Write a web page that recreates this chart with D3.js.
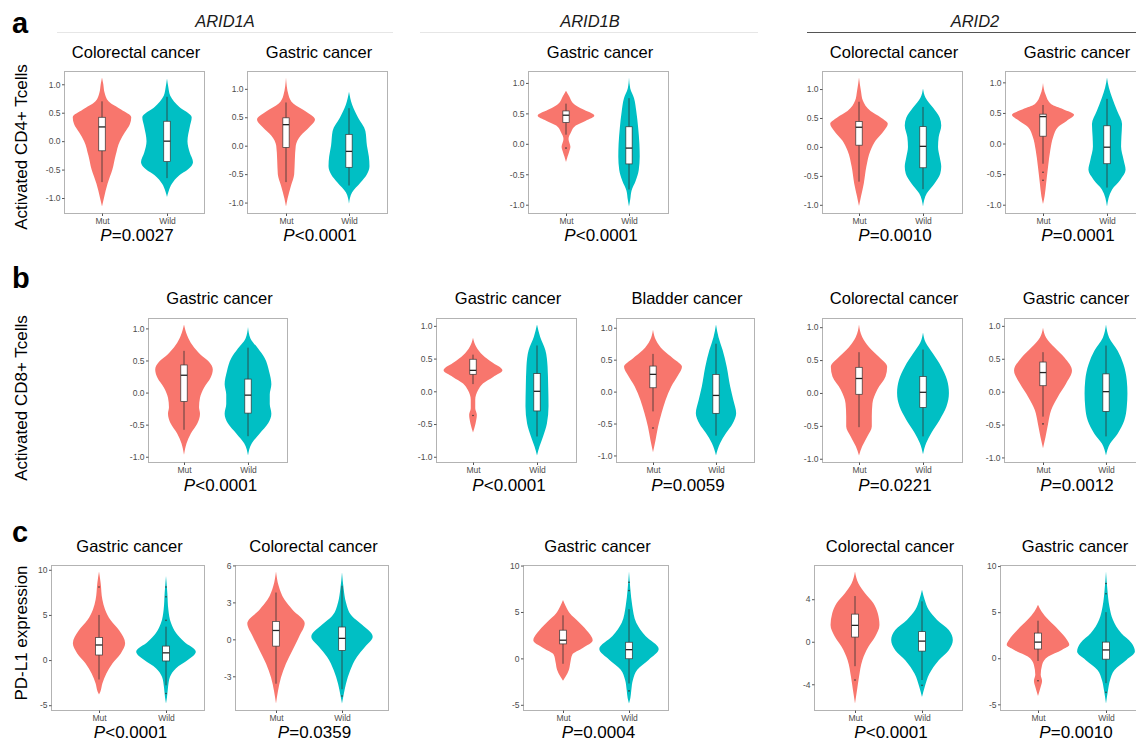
<!DOCTYPE html>
<html><head><meta charset="utf-8">
<script src="https://cdn.jsdelivr.net/npm/d3@7"></script>
<style>body{margin:0;background:#fff;} svg{display:block;font-family:"Liberation Sans",Arial,sans-serif;}</style>
</head><body><svg id="c" width="1136" height="742"></svg>
<script>
// ---------------- DATA ----------------
const groups = ["Mut", "Wild"];
const geneHeaders = ["ARID1A", "ARID1B", "ARID2"];
const rowLetters = ["a", "b", "c"];
const rowTitles = ["Activated CD4+ Tcells", "Activated CD8+ Tcells", "PD-L1 expression"];
const panelTitles = [
  "Colorectal cancer", "Gastric cancer", "Gastric cancer", "Colorectal cancer", "Gastric cancer",
  "Gastric cancer", "Gastric cancer", "Bladder cancer", "Colorectal cancer", "Gastric cancer",
  "Gastric cancer", "Colorectal cancer", "Gastric cancer", "Colorectal cancer", "Gastric cancer"];
const pLabels = [
  "=0.0027", "<0.0001", "<0.0001", "=0.0010", "=0.0001",
  "<0.0001", "<0.0001", "=0.0059", "=0.0221", "=0.0012",
  "<0.0001", "=0.0359", "=0.0004", "<0.0001", "=0.0010"];
const ticksTcell = [-1, -0.5, 0, 0.5, 1];
const ticksPD10 = [-5, 0, 5, 10];
const ticksPD6 = [-3, 0, 3, 6];
const ticksPD4 = [-4, 0, 4];

// violin profiles: [value, relative half-width]
const mutViolins = [
  [[1.12,0],[1.0,0.04],[0.85,0.08],[0.7,0.2],[0.55,0.6],[0.42,0.9],[0.3,0.86],[0.15,0.7],[0,0.55],[-0.25,0.42],[-0.5,0.32],[-0.75,0.17],[-1.0,0.06],[-1.15,0]],
  [[1.2,0],[0.89,0.08],[0.74,0.23],[0.6,0.63],[0.46,0.92],[0.32,0.73],[0.18,0.47],[0,0.31],[-0.25,0.28],[-0.5,0.26],[-0.7,0.16],[-0.93,0.05],[-1.07,0]],
  [[0.87,0],[0.78,0.1],[0.65,0.26],[0.57,0.52],[0.46,0.9],[0.38,0.63],[0.3,0.31],[0.19,0.16],[0.08,0.08],[-0.05,0.14],[-0.13,0.1],[-0.21,0.05],[-0.3,0]],
  [[1.2,0],[0.97,0.06],[0.8,0.12],[0.62,0.36],[0.51,0.68],[0.4,0.9],[0.28,0.78],[0.11,0.52],[-0.06,0.36],[-0.34,0.23],[-0.63,0.15],[-0.86,0.06],[-1.02,0]],
  [[0.99,0],[0.8,0.08],[0.64,0.26],[0.56,0.63],[0.47,0.97],[0.37,0.74],[0.27,0.47],[0.11,0.32],[-0.1,0.23],[-0.37,0.16],[-0.64,0.1],[-0.86,0.05],[-0.99,0]],
  [[1.06,0],[0.89,0.1],[0.74,0.26],[0.59,0.52],[0.48,0.78],[0.36,0.9],[0.23,0.83],[0.08,0.63],[-0.08,0.5],[-0.23,0.47],[-0.33,0.5],[-0.48,0.42],[-0.64,0.21],[-0.79,0.08],[-0.97,0]],
  [[0.82,0],[0.68,0.1],[0.55,0.31],[0.45,0.57],[0.32,0.92],[0.22,0.63],[0.12,0.31],[0.02,0.16],[-0.13,0.07],[-0.26,0.07],[-0.36,0.12],[-0.49,0.08],[-0.63,0]],
  [[0.97,0],[0.8,0.1],[0.65,0.32],[0.52,0.64],[0.39,0.92],[0.26,0.8],[0.08,0.58],[-0.13,0.4],[-0.34,0.27],[-0.55,0.16],[-0.76,0.08],[-0.95,0]],
  [[1.04,0],[0.85,0.1],[0.7,0.31],[0.55,0.62],[0.4,0.88],[0.25,0.83],[0.05,0.57],[-0.16,0.42],[-0.36,0.4],[-0.51,0.4],[-0.66,0.26],[-0.81,0.1],[-0.95,0]],
  [[0.97,0],[0.82,0.1],[0.67,0.37],[0.52,0.68],[0.32,0.92],[0.12,0.73],[-0.08,0.47],[-0.28,0.26],[-0.49,0.16],[-0.69,0.08],[-0.86,0]],
  [[9.8,0],[8.5,0.05],[6.7,0.1],[5.6,0.18],[4.4,0.35],[3.3,0.6],[1.85,0.78],[0.74,0.65],[-0.37,0.4],[-1.5,0.22],[-2.6,0.1],[-3.5,0.04],[-3.8,0]],
  [[5.5,0],[4.35,0.08],[3.25,0.25],[2.4,0.5],[1.3,0.87],[0.22,0.7],[-0.88,0.5],[-1.98,0.3],[-3.1,0.15],[-4.2,0.06],[-5.2,0]],
  [[6.3,0],[5.65,0.08],[4.9,0.2],[3.85,0.5],[2.75,0.78],[1.96,0.9],[1.12,0.6],[0.4,0.28],[-0.5,0.22],[-1.23,0.18],[-1.96,0.08],[-2.4,0]],
  [[6.6,0],[5.5,0.1],[4.57,0.3],[3.62,0.55],[2.68,0.68],[1.57,0.73],[0.47,0.6],[-0.47,0.4],[-1.73,0.22],[-3.3,0.12],[-4.57,0.06],[-5.8,0]],
  [[5.8,0],[5.1,0.1],[4.2,0.3],[3.1,0.6],[2.0,0.85],[1.45,0.92],[0.9,0.7],[0.18,0.3],[-0.73,0.12],[-1.8,0.08],[-2.45,0.12],[-3.1,0.08],[-3.6,0.04],[-4.1,0]]
];
const wildViolins = [
  [[1.1,0],[0.95,0.04],[0.8,0.1],[0.6,0.38],[0.42,0.76],[0.25,0.7],[0,0.63],[-0.2,0.7],[-0.37,0.8],[-0.5,0.64],[-0.6,0.38],[-0.75,0.15],[-0.88,0.05],[-0.98,0]],
  [[0.95,0],[0.72,0.1],[0.49,0.29],[0.26,0.52],[0,0.57],[-0.19,0.63],[-0.36,0.65],[-0.5,0.57],[-0.65,0.36],[-0.82,0.1],[-1.02,0]],
  [[1.09,0],[0.91,0.04],[0.75,0.16],[0.54,0.23],[0.27,0.29],[0,0.33],[-0.21,0.34],[-0.43,0.31],[-0.61,0.21],[-0.77,0.08],[-0.91,0.04],[-1.03,0]],
  [[1.01,0],[0.85,0.08],[0.68,0.31],[0.51,0.52],[0.37,0.57],[0.17,0.49],[0,0.47],[-0.17,0.52],[-0.34,0.57],[-0.46,0.54],[-0.63,0.36],[-0.8,0.12],[-1.03,0]],
  [[1.08,0],[0.91,0.06],[0.75,0.16],[0.53,0.32],[0.32,0.47],[0.11,0.45],[-0.05,0.44],[-0.27,0.52],[-0.43,0.58],[-0.59,0.42],[-0.75,0.16],[-1.03,0]],
  [[1.02,0],[0.84,0.08],[0.69,0.31],[0.54,0.52],[0.33,0.66],[0.13,0.73],[-0.03,0.68],[-0.18,0.68],[-0.33,0.73],[-0.48,0.63],[-0.64,0.36],[-0.79,0.12],[-0.98,0]],
  [[1.02,0],[0.83,0.1],[0.63,0.26],[0.38,0.33],[0.07,0.35],[-0.23,0.36],[-0.49,0.31],[-0.69,0.19],[-0.84,0.08],[-0.98,0]],
  [[1.05,0],[0.85,0.08],[0.65,0.21],[0.39,0.34],[0.08,0.45],[-0.13,0.55],[-0.34,0.64],[-0.5,0.53],[-0.65,0.32],[-0.81,0.13],[-1.0,0]],
  [[0.92,0],[0.77,0.08],[0.6,0.31],[0.4,0.57],[0.2,0.75],[0,0.81],[-0.21,0.73],[-0.41,0.52],[-0.61,0.26],[-0.76,0.1],[-0.93,0]],
  [[1.02,0],[0.82,0.1],[0.62,0.37],[0.42,0.55],[0.17,0.66],[-0.03,0.68],[-0.23,0.66],[-0.44,0.58],[-0.64,0.37],[-0.79,0.13],[-0.97,0]],
  [[9.3,0],[7.4,0.04],[5.6,0.07],[4.1,0.15],[3.0,0.3],[2.0,0.55],[0.93,0.89],[0,0.65],[-0.9,0.3],[-1.85,0.12],[-3,0.06],[-4.1,0.03],[-4.8,0]],
  [[5.45,0],[4.1,0.05],[3,0.12],[1.9,0.3],[1.2,0.6],[0.22,0.93],[-0.6,0.7],[-1.43,0.45],[-2.5,0.25],[-3.6,0.12],[-4.5,0.05],[-5.2,0]],
  [[9.35,0],[7.5,0.04],[5.65,0.1],[3.85,0.22],[2.4,0.5],[1.0,0.9],[-0.15,0.6],[-1.23,0.25],[-2.3,0.12],[-3.4,0.07],[-4.3,0.04],[-4.85,0]],
  [[4.9,0],[3.94,0.08],[3.0,0.2],[2.05,0.45],[1.1,0.8],[0.16,0.92],[-0.79,0.8],[-1.73,0.5],[-3.0,0.22],[-4.25,0.08],[-5.2,0]],
  [[9.4,0],[7.45,0.04],[5.6,0.1],[4.2,0.2],[2.7,0.45],[1.65,0.75],[0.73,0.85],[-0.18,0.6],[-1.27,0.25],[-2.36,0.12],[-3.45,0.06],[-4.9,0]]
];
// boxes: [lower whisker, Q1, median, Q3, upper whisker]
const mutBoxes = [
  [-0.72,-0.17,0.25,0.42,0.7], [-0.64,-0.03,0.37,0.49,0.76], [0.15,0.35,0.47,0.54,0.66], [-0.6,0.03,0.34,0.44,0.78], [-0.33,0.12,0.44,0.48,0.63],
  [-0.58,-0.14,0.27,0.43,0.65], [0.11,0.26,0.32,0.49,0.56], [-0.31,0.06,0.27,0.4,0.59], [-0.52,-0.02,0.22,0.39,0.62], [-0.38,0.09,0.29,0.45,0.6],
  [-2.15,0.56,1.67,2.5,5.0], [-3.6,-0.55,0.72,1.46,3.8], [-0.58,1.56,1.96,3.04,4.64], [-2.3,0.44,1.54,2.6,4.3], [-0.3,1.0,1.75,2.73,4.07]
];
const wildBoxes = [
  [-0.65,-0.36,0,0.35,0.78], [-0.7,-0.38,-0.1,0.2,0.66], [-0.75,-0.33,-0.07,0.28,0.75], [-0.73,-0.36,0.01,0.35,0.69], [-0.72,-0.33,-0.06,0.29,0.73],
  [-0.68,-0.32,-0.04,0.21,0.7], [-0.69,-0.3,0,0.27,0.7], [-0.69,-0.34,-0.06,0.27,0.75], [-0.66,-0.22,0.01,0.25,0.66], [-0.68,-0.3,0,0.27,0.7],
  [-2.8,-0.1,0.8,1.55,3.7], [-4.05,-0.9,0.08,1.0,4.35], [-2.7,-0.04,0.94,1.74,5.3], [-3.6,-0.88,0.06,0.95,3.8], [-2.7,-0.1,0.9,1.75,5.0]
];
const mutOutliers = [[], [], [-0.07], [], [-0.47,-0.6], [], [-0.37], [-0.57], [], [-0.49], [8.1], [], [], [-3.6], [-2.45]];
const wildOutliers = [[], [], [], [], [], [], [], [], [], [], [8.1,7.0,4.4,-3.7], [-4.6], [8.2,7.3,-3.5], [-4.1], [8.1,7.0,-3.7]];

// ---------------- LAYOUT ----------------
const panelTicks = [ticksTcell,ticksTcell,ticksTcell,ticksTcell,ticksTcell,ticksTcell,ticksTcell,ticksTcell,ticksTcell,ticksTcell,ticksPD10,ticksPD6,ticksPD10,ticksPD4,ticksPD10];
const tickFmt = [d => d.toFixed(1), d => d.toFixed(1), d => String(d)];
const rowGeom = [
  {y0:71, y1:213, title:58, xlab:223, p:241, letter:33, ylab:147},
  {y0:318, y1:462, title:304, xlab:471, p:491, letter:288, ylab:398},
  {y0:565, y1:710, title:552, xlab:719, p:737.5, letter:542, ylab:633}
];
const layout = [
  {row:0,x0:64,x1:204,cx:[102,167]}, {row:0,x0:247,x1:387,cx:[286,349]}, {row:0,x0:528,x1:668,cx:[566,629]},
  {row:0,x0:822,x1:962,cx:[859,923]}, {row:0,x0:1005,x1:1145,cx:[1043,1107]},
  {row:1,x0:148,x1:287,cx:[184,248]}, {row:1,x0:436,x1:576,cx:[473,537]}, {row:1,x0:616,x1:754,cx:[653,716]},
  {row:1,x0:822,x1:962,cx:[859,923]}, {row:1,x0:1004,x1:1144,cx:[1043,1106]},
  {row:2,x0:51,x1:204,cx:[99,166]}, {row:2,x0:235,x1:388,cx:[276,342]}, {row:2,x0:523,x1:668,cx:[563,629]},
  {row:2,x0:814,x1:962,cx:[855,922]}, {row:2,x0:1000,x1:1146,cx:[1038,1106]}
];
const geneLayout = [
  {cx:225, x0:57, x1:393, line:"#e6e6e6"},
  {cx:590, x0:420, x1:758, line:"#e6e6e6"},
  {cx:975, x0:807, x1:1136, line:"#555"}
];
const colors = {Mut:"#F8766D", Wild:"#00BFC4"};

// ---------------- DRAW ----------------
const svg = d3.select("#c");

geneHeaders.forEach((g, i) => {
  const L = geneLayout[i];
  svg.append("text").attr("x", L.cx).attr("y", 27).attr("text-anchor","middle")
    .attr("font-size", 16.5).attr("font-style","italic").attr("fill","#1a1a1a").text(g);
  svg.append("line").attr("x1", L.x0).attr("x2", L.x1).attr("y1", 32.5).attr("y2", 32.5)
    .attr("stroke", L.line).attr("stroke-width", 1);
});

rowLetters.forEach((l, i) => {
  const R = rowGeom[i];
  svg.append("text").attr("x", 12).attr("y", R.letter).attr("font-size", 29).attr("font-weight","bold")
    .attr("fill","#000").text(l);
  svg.append("text").attr("transform", `translate(27,${R.ylab}) rotate(-90)`).attr("text-anchor","middle")
    .attr("font-size", 17).attr("fill","#000").text(rowTitles[i]);
});

layout.forEach((L, i) => {
  const R = rowGeom[L.row];
  const g = svg.append("g");
  const allVals = mutViolins[i].concat(wildViolins[i]).map(d => d[0]);
  const [mn, mx] = d3.extent(allVals);
  const pad = (mx - mn) * 0.05;
  const y = d3.scaleLinear().domain([mn - pad, mx + pad]).range([R.y1, R.y0]);
  const x = d3.scalePoint().domain(groups).range(L.cx);
  const half = (L.cx[1] - L.cx[0]) / 2;
  const wScale = d3.scaleLinear().domain([0, 1]).range([0, half]);

  const violinData = {Mut: mutViolins[i], Wild: wildViolins[i]};
  const boxData = {Mut: mutBoxes[i], Wild: wildBoxes[i]};
  const outData = {Mut: mutOutliers[i], Wild: wildOutliers[i]};

  groups.forEach(gr => {
    const cx = x(gr);
    const area = d3.area().curve(d3.curveMonotoneY)
      .y(d => y(d[0]))
      .x0(d => cx - wScale(d[1]))
      .x1(d => cx + wScale(d[1]));
    g.append("path").datum(violinData[gr]).attr("d", area).attr("fill", colors[gr]);
  });

  groups.forEach(gr => {
    const cx = x(gr);
    const b = boxData[gr];
    const bw = wScale(0.1);
    g.append("line").attr("x1", cx).attr("x2", cx).attr("y1", y(b[0])).attr("y2", y(b[4]))
      .attr("stroke", "#333").attr("stroke-width", 0.8);
    g.append("rect").attr("x", cx - bw).attr("width", bw * 2)
      .attr("y", y(b[3])).attr("height", y(b[1]) - y(b[3]))
      .attr("fill", "#fff").attr("stroke", "#333").attr("stroke-width", 0.7);
    g.append("line").attr("x1", cx - bw).attr("x2", cx + bw).attr("y1", y(b[2])).attr("y2", y(b[2]))
      .attr("stroke", "#222").attr("stroke-width", 1.3);
    g.selectAll(null).data(outData[gr]).enter().append("circle")
      .attr("cx", cx).attr("cy", d => y(d)).attr("r", 0.8).attr("fill", "#333");
  });

  // border
  g.append("rect").attr("x", L.x0 + 0.5).attr("y", R.y0 + 0.5)
    .attr("width", L.x1 - L.x0).attr("height", R.y1 - R.y0)
    .attr("fill", "none").attr("stroke", "#b3b3b3").attr("stroke-width", 1);

  // axes
  const yAxis = d3.axisLeft(y).tickValues(panelTicks[i]).tickSize(2.5).tickPadding(1.5).tickFormat(tickFmt[L.row]);
  const ya = g.append("g").attr("transform", `translate(${L.x0 + 0.5},0)`).call(yAxis);
  ya.select(".domain").remove();
  ya.selectAll("line").attr("stroke", "#555");
  ya.selectAll("text").attr("font-size", 8.5).attr("fill", "#4d4d4d").attr("font-family", "Liberation Sans, Arial, sans-serif");

  const xAxis = d3.axisBottom(x).tickSize(2.5).tickPadding(1.5);
  const xa = g.append("g").attr("transform", `translate(0,${R.y1 + 0.5})`).call(xAxis);
  xa.select(".domain").remove();
  xa.selectAll("line").attr("stroke", "#555");
  xa.selectAll("text").attr("font-size", 8.5).attr("fill", "#4d4d4d").attr("font-family", "Liberation Sans, Arial, sans-serif");

  const mid = (L.x0 + L.x1) / 2;
  g.append("text").attr("x", mid + 2).attr("y", R.title).attr("text-anchor","middle")
    .attr("font-size", 16.5).attr("fill","#000").text(panelTitles[i]);
  const pt = g.append("text").attr("x", mid + 3).attr("y", R.p).attr("text-anchor","middle")
    .attr("font-size", 17).attr("fill","#000");
  pt.append("tspan").attr("font-style","italic").text("P");
  pt.append("tspan").text(pLabels[i]);
});
</script>
</body></html>
